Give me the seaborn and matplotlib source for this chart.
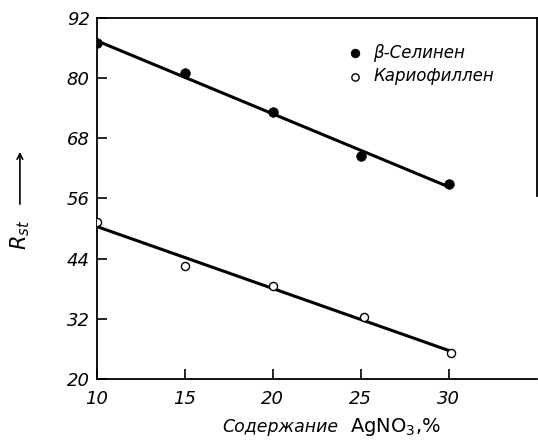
import numpy as np
import pandas as pd
import matplotlib
matplotlib.use("Agg")
import matplotlib.pyplot as plt
import seaborn as sns

# содержание AgNO3, %
agno3_selinene = [10, 15, 20, 25, 30]
rst_selinene = [86.9, 81.0, 73.2, 64.4, 58.8]

agno3_caryo = [10, 15, 20, 25.2, 30.1]
rst_caryo = [51.3, 42.5, 38.5, 32.4, 25.2]

labels = ["β-Селинен", "Кариофиллен"]
y_ticks = [20, 32, 44, 56, 68, 80, 92]
x_ticks = [10, 15, 20, 25, 30]

df = pd.DataFrame({
    "x": agno3_selinene + agno3_caryo,
    "y": rst_selinene + rst_caryo,
    "comp": [labels[0]] * 5 + [labels[1]] * 5,
})

sns.set_style("ticks")
plt.rcParams["font.family"] = ["DejaVu Sans"]
plt.rcParams["text.color"] = "black"
plt.rcParams["xtick.color"] = "black"
plt.rcParams["ytick.color"] = "black"

fig = plt.figure(figsize=(5.38, 4.45), dpi=100)
ax = fig.add_axes([0.180, 0.148, 0.818, 0.812])

# fitted lines
for lab in labels:
    sub = df[df["comp"] == lab]
    sns.regplot(data=sub, x="x", y="y", scatter=False, ci=None, truncate=True,
                line_kws={"color": "black", "lw": 2.2}, ax=ax)

sel = df[df["comp"] == labels[0]]
car = df[df["comp"] == labels[1]]
sns.scatterplot(data=sel, x="x", y="y", color="black", s=48, edgecolor="black",
                linewidth=0.5, label=labels[0], zorder=5, ax=ax)
sns.scatterplot(data=car, x="x", y="y", facecolor="white", s=34, edgecolor="black",
                linewidth=1.0, label=labels[1], zorder=5, ax=ax)

ax.set_xlim(10, 35)
ax.set_ylim(20, 92)
ax.set_xticks(x_ticks)
ax.set_yticks(y_ticks)
ax.tick_params(direction="in", length=7, width=1.2, labelsize=13, colors="black")
ax.tick_params(axis="x", pad=8)
ax.tick_params(axis="y", pad=5)
for t in ax.get_xticklabels() + ax.get_yticklabels():
    t.set_fontstyle("italic")
for sp in ax.spines.values():
    sp.set_linewidth(1.3)
    sp.set_color("black")
    sp.set_visible(True)
ax.spines["right"].set_bounds(56.5, 92)
ax.set_xlabel("")
ax.set_ylabel("")

leg = ax.legend(loc="upper left", bbox_to_anchor=(0.515, 0.97), frameon=False,
                handletextpad=0.1, fontsize=12, markerscale=0.9, labelspacing=0.35)
for t in leg.get_texts():
    t.set_fontstyle("italic")

# y label with arrow
fig.text(0.037, 0.472, r"$R_{st}$", rotation=90, fontsize=15, ha="center", va="center")
ax.annotate("", xy=(0.037, 0.665), xytext=(0.037, 0.535), xycoords="figure fraction",
            arrowprops=dict(arrowstyle="->", color="black", lw=1.2))

# x label
fig.text(0.413, 0.040, "Содержание", fontsize=12.5, fontstyle="italic", ha="left", va="center")
fig.text(0.650, 0.040, r"AgNO$_3$,%", fontsize=14, ha="left", va="center")

fig.savefig("out.png", dpi=100)
